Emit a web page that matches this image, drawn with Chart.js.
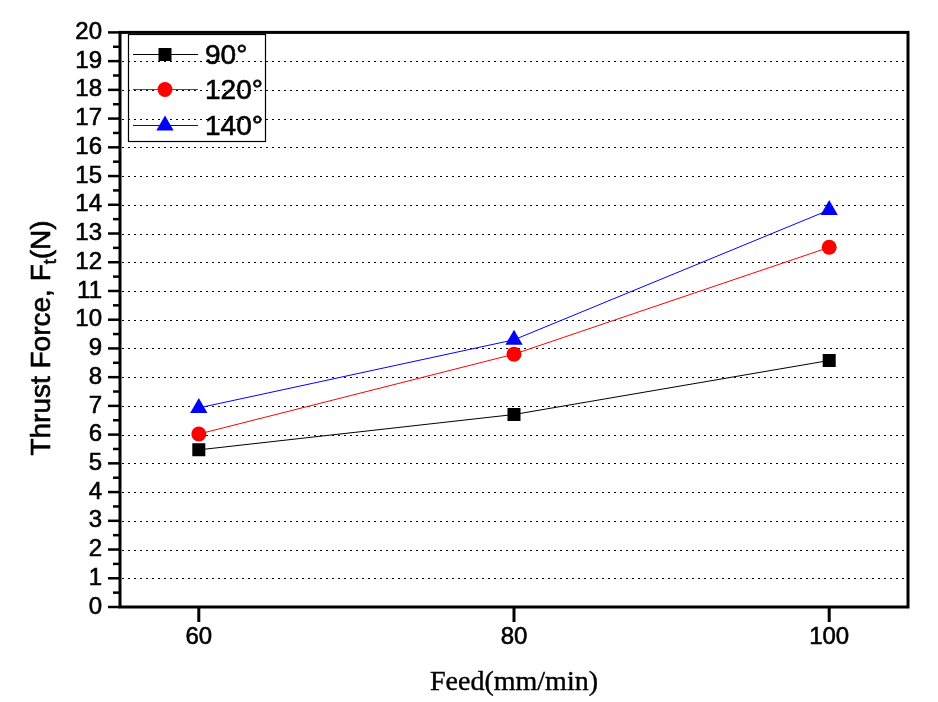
<!DOCTYPE html>
<html>
<head>
<meta charset="utf-8">
<script src="https://cdn.jsdelivr.net/npm/chart.js@4.4.1/dist/chart.umd.min.js"></script>
<style>
html,body{margin:0;padding:0;background:#fff;}
#wrap{width:938px;height:702px;position:relative;}
</style>
</head>
<body>
<div id="wrap"><canvas id="c" width="938" height="702"></canvas></div>
<script>
const feeds = [60, 80, 100];
const xTickLabels = ['60', '80', '100'];
const thrust90 = [5.47, 6.70, 8.58];
const thrust120 = [6.02, 8.80, 12.52];
const thrust140 = [6.93, 9.30, 13.82];
const seriesNames = ['90°', '120°', '140°'];
const yMin = 0, yMax = 20, yStep = 1;

const toPts = arr => feeds.map((f, i) => ({x: f, y: arr[i]}));

function drawMarker(ctx, style, x, y, r, color) {
  ctx.save();
  ctx.fillStyle = color;
  ctx.beginPath();
  if (style === 'rect') {
    const s = r * Math.SQRT1_2;
    ctx.rect(x - s, y - s, 2 * s, 2 * s);
  } else if (style === 'circle') {
    ctx.arc(x, y, r, 0, Math.PI * 2);
  } else if (style === 'triangle') {
    ctx.moveTo(x, y - r);
    ctx.lineTo(x + r * Math.cos(Math.PI / 6), y + r / 2);
    ctx.lineTo(x - r * Math.cos(Math.PI / 6), y + r / 2);
    ctx.closePath();
  }
  ctx.fill();
  ctx.restore();
}

function boldText(ctx, txt, x, y) {
  ctx.fillText(txt, x, y);
  ctx.strokeText(txt, x, y);
}

const framePlugin = {
  id: 'frame',
  beforeDatasetsDraw(chart) {
    const {ctx, chartArea: a, scales: {y}} = chart;
    ctx.save();
    ctx.strokeStyle = '#000';
    ctx.lineWidth = 1;
    ctx.setLineDash([2, 4]);
    for (let v = yMin + yStep; v < yMax; v += yStep) {
      const py = Math.round(y.getPixelForValue(v)) + 0.5;
      ctx.beginPath();
      ctx.moveTo(a.left + 2, py);
      ctx.lineTo(a.right - 3, py);
      ctx.stroke();
    }
    ctx.restore();
  },
  afterDraw(chart) {
    const {ctx, chartArea: a, scales: {x, y}} = chart;
    ctx.save();
    ctx.strokeStyle = '#000';
    ctx.lineWidth = 3;
    ctx.strokeRect(a.left, a.top, a.right - a.left, a.bottom - a.top);
    // y ticks
    ctx.lineWidth = 2.5;
    for (let v = yMin; v <= yMax + 1e-9; v += yStep / 2) {
      const py = y.getPixelForValue(v);
      const major = Math.abs(v - Math.round(v)) < 1e-9;
      ctx.beginPath();
      ctx.moveTo(a.left, py);
      ctx.lineTo(a.left - (major ? 12 : 7), py);
      ctx.stroke();
    }
    // x ticks
    ctx.lineWidth = 3;
    feeds.forEach(f => {
      const px = x.getPixelForValue(f);
      ctx.beginPath();
      ctx.moveTo(px, a.bottom);
      ctx.lineTo(px, a.bottom + 15);
      ctx.stroke();
    });
    // legend
    ctx.lineWidth = 1.2;
    ctx.strokeRect(128.5, 34.5, 137, 107);
    const rows = [54, 89, 125];
    chart.data.datasets.forEach((ds, i) => {
      const ly = rows[i];
      ctx.strokeStyle = ds.borderColor;
      ctx.lineWidth = 1;
      ctx.beginPath();
      ctx.moveTo(133, ly + 0.5);
      ctx.lineTo(198, ly + 0.5);
      ctx.stroke();
      drawMarker(ctx, ds.pointStyle, 165, ly + 0.5, ds.pointRadius, ds.backgroundColor);
      ctx.fillStyle = '#000';
      ctx.strokeStyle = '#000';
      ctx.lineWidth = 0.6;
      ctx.font = '28px "Liberation Sans", Arial, sans-serif';
      ctx.textBaseline = 'alphabetic';
      ctx.textAlign = 'left';
      boldText(ctx, ds.label, 205, ly + 10);
    });
    // y axis title
    ctx.save();
    ctx.translate(50, 338);
    ctx.rotate(-Math.PI / 2);
    ctx.fillStyle = '#000';
    ctx.strokeStyle = '#000';
    ctx.lineWidth = 0.6;
    ctx.textBaseline = 'alphabetic';
    ctx.textAlign = 'left';
    const f1 = '28px "Liberation Sans", Arial, sans-serif';
    const f2 = '18px "Liberation Sans", Arial, sans-serif';
    const p1 = 'Thrust Force, F', p2 = 't', p3 = '(N)';
    ctx.font = f1; const w1 = ctx.measureText(p1).width, w3 = ctx.measureText(p3).width;
    ctx.font = f2; const w2 = ctx.measureText(p2).width;
    let sx = -(w1 + w2 + w3) / 2;
    ctx.font = f1; boldText(ctx, p1, sx, 0); sx += w1;
    ctx.font = f2; boldText(ctx, p2, sx, 6); sx += w2;
    ctx.font = f1; boldText(ctx, p3, sx, 0);
    ctx.restore();
    // x axis title
    ctx.fillStyle = '#000';
    ctx.strokeStyle = '#000';
    ctx.lineWidth = 0.4;
    ctx.font = '28px "Liberation Serif", "Times New Roman", serif';
    ctx.textAlign = 'center';
    ctx.textBaseline = 'alphabetic';
    boldText(ctx, 'Feed(mm/min)', 514, 690);
    ctx.restore();
  }
};

new Chart(document.getElementById('c'), {
  type: 'line',
  data: {
    datasets: [
      {label: seriesNames[0], data: toPts(thrust90), borderColor: '#000000', backgroundColor: '#000000',
       pointStyle: 'rect', pointRadius: 9.2, pointHoverRadius: 9.2, pointBorderWidth: 0, borderWidth: 1},
      {label: seriesNames[1], data: toPts(thrust120), borderColor: '#ff0000', backgroundColor: '#ff0000',
       pointStyle: 'circle', pointRadius: 7.5, pointHoverRadius: 7.5, pointBorderWidth: 0, borderWidth: 1},
      {label: seriesNames[2], data: toPts(thrust140), borderColor: '#0000ff', backgroundColor: '#0000ff',
       pointStyle: 'triangle', pointRadius: 10, pointHoverRadius: 10, pointBorderWidth: 0, borderWidth: 1}
    ]
  },
  options: {
    responsive: false,
    animation: false,
    devicePixelRatio: 1,
    layout: {padding: {left: 0, top: 29, right: 30, bottom: 0}},
    plugins: {legend: {display: false}, tooltip: {enabled: false}},
    scales: {
      x: {
        type: 'linear', min: 55, max: 105,
        afterBuildTicks: s => { s.ticks = feeds.map(v => ({value: v})); },
        afterFit: s => { s.height = 95; },
        grid: {display: false, drawTicks: false},
        border: {display: false},
        ticks: {
          color: '#000', padding: 16, maxRotation: 0, autoSkip: false,
          textStrokeColor: '#000', textStrokeWidth: 0.6,
          font: {family: '"Liberation Sans", Arial, sans-serif', size: 24},
          callback: v => xTickLabels[feeds.indexOf(v)]
        }
      },
      y: {
        min: yMin, max: yMax,
        afterFit: s => { s.width = 120; },
        grid: {display: false, drawTicks: false},
        border: {display: false},
        ticks: {
          stepSize: yStep, color: '#000', padding: 18, autoSkip: false,
          textStrokeColor: '#000', textStrokeWidth: 0.6,
          font: {family: '"Liberation Sans", Arial, sans-serif', size: 24}
        }
      }
    }
  },
  plugins: [framePlugin]
});
</script>
</body>
</html>
